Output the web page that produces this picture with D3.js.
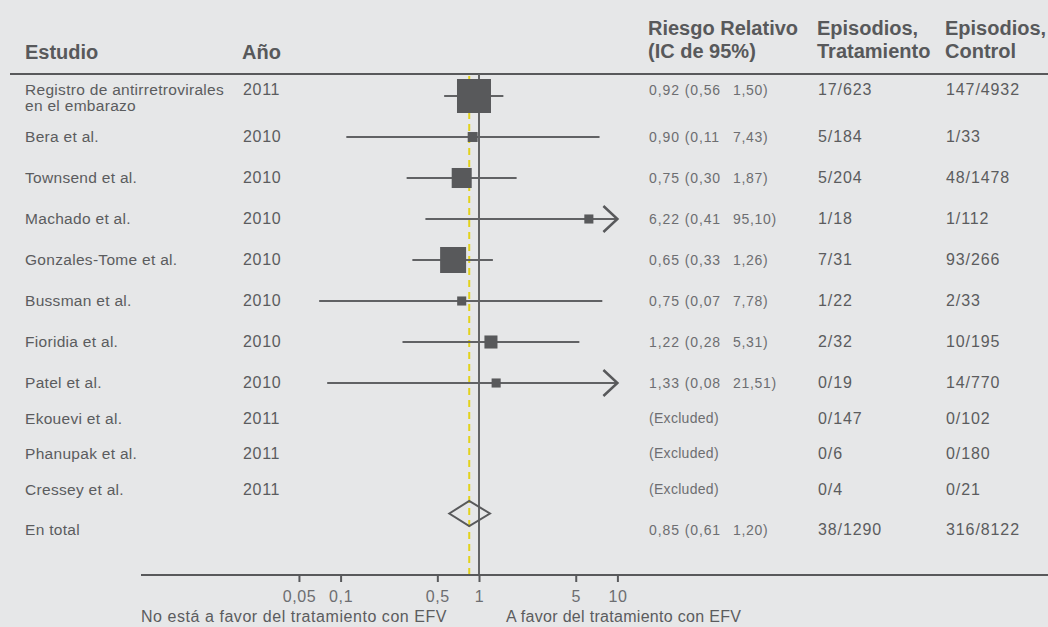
<!DOCTYPE html>
<html lang="es">
<head>
<meta charset="utf-8">
<script src="https://cdn.jsdelivr.net/npm/d3@7"></script>
<style>
  html, body { margin: 0; padding: 0; background: #e6e7e8; }
  svg { display: block; font-family: "Liberation Sans", Arial, Helvetica, sans-serif; }
</style>
</head>
<body>
<svg id="chart" width="1048" height="627"></svg>
<script>
// Estudios incluidos en el metanálisis
const studies = [
  ["Registro de antirretrovirales", "en el embarazo"],
  ["Bera et al."],
  ["Townsend et al."],
  ["Machado et al."],
  ["Gonzales-Tome et al."],
  ["Bussman et al."],
  ["Fioridia et al."],
  ["Patel et al."],
  ["Ekouevi et al."],
  ["Phanupak et al."],
  ["Cressey et al."]
];
const years = [2011, 2010, 2010, 2010, 2010, 2010, 2010, 2010, 2011, 2011, 2011];

// Riesgo relativo e IC 95 % (null = estudio excluido)
const rr    = [0.92, 0.90, 0.75, 6.22, 0.65, 0.75, 1.22, 1.33, null, null, null];
const lower = [0.56, 0.11, 0.30, 0.41, 0.33, 0.07, 0.28, 0.08, null, null, null];
const upper = [1.50, 7.43, 1.87, 95.10, 1.26, 7.78, 5.31, 21.51, null, null, null];

// Peso relativo de cada estudio (%), fija el tamaño del cuadrado
const weights = [42.1, 3.6, 14.6, 3.0, 24.6, 3.0, 6.2, 3.0, null, null, null];

// Episodios / total en cada grupo
const treatEvents   = [17, 5, 5, 1, 7, 1, 2, 0, 0, 0, 0];
const treatTotal    = [623, 184, 204, 18, 31, 22, 32, 19, 147, 6, 4];
const controlEvents = [147, 1, 48, 1, 93, 2, 10, 14, 0, 0, 0];
const controlTotal  = [4932, 33, 1478, 112, 266, 33, 195, 770, 102, 180, 21];

// Estimación combinada
const pooledLabel = "En total";
const pooled = { rr: 0.85, lower: 0.61, upper: 1.20 };
const pooledTreat = [38, 1290];
const pooledControl = [316, 8122];

// Eje
const tickValues = [0.05, 0.1, 0.5, 1, 5, 10];
const axisMax = 10;
const headers = {
  study: "Estudio", year: "Año",
  rr: ["Riesgo Relativo", "(IC de 95%)"],
  treat: ["Episodios,", "Tratamiento"],
  control: ["Episodios,", "Control"]
};
const favourLeft = "No está a favor del tratamiento con EFV";
const favourRight = "A favor del tratamiento con EFV";

// ---------------------------------------------------------------
const W = 1048, H = 627;
const dark = "#58595b", lineCol = "#616264", textCol = "#5b5c5e", lightText = "#6d6e71";
const col = { study: 25, year: 243, ci: 649, ciHi: 733, treat: 818, control: 946 };
const topRule = 74, axisY = 575;

const svg = d3.select("#chart");
svg.append("rect").attr("width", W).attr("height", H).attr("fill", "#e6e7e8");

const x = d3.scaleLog().domain([0.1, 10]).range([340.6, 617.4]);
const size = d3.scaleSqrt().domain([0, d3.max(weights)]).range([0, 34]);
const fmt = v => d3.format(".2f")(v).replace(".", ",");

// Filas: centro vertical acumulado según el tipo de fila
const rows = studies.map((s, i) => ({
  label: s, year: years[i], rr: rr[i], lo: lower[i], hi: upper[i], w: weights[i],
  treat: `${treatEvents[i]}/${treatTotal[i]}`,
  control: `${controlEvents[i]}/${controlTotal[i]}`
}));
let cy = 96;
rows.forEach((r, i) => {
  if (i > 0) cy += r.rr != null ? 41 : 35.5;
  r.cy = cy;
});
const totalCy = cy + 40;

// Encabezados
const hdr = svg.append("g").attr("fill", dark).attr("font-weight", "bold").attr("font-size", 20);
hdr.append("text").attr("x", col.study).attr("y", 59).text(headers.study);
hdr.append("text").attr("x", col.year - 1).attr("y", 59).text(headers.year);
[["rr", col.ci - 1], ["treat", col.treat - 1], ["control", col.control - 1]].forEach(([k, xx]) => {
  headers[k].forEach((t, j) => hdr.append("text").attr("x", xx).attr("y", 35 + j * 23).text(t));
});
svg.append("line").attr("x1", 10).attr("x2", W).attr("y1", topRule).attr("y2", topRule)
  .attr("stroke", dark).attr("stroke-width", 2);

// Línea de no efecto y línea del efecto combinado
svg.append("line").attr("x1", x(1)).attr("x2", x(1)).attr("y1", topRule).attr("y2", axisY)
  .attr("stroke", "#636466").attr("stroke-width", 2);
svg.append("line").attr("x1", x(pooled.rr)).attr("x2", x(pooled.rr)).attr("y1", topRule + 2).attr("y2", axisY)
  .attr("stroke", "#e2d21c").attr("stroke-width", 2).attr("stroke-dasharray", "7,5");

// Textos de cada fila
const rowG = svg.append("g").selectAll("g").data(rows).join("g");
rowG.each(function (r) {
  const g = d3.select(this);
  const base = r.cy + 5 - (r.label.length > 1 ? 6 : 0);
  const lab = g.append("text").attr("x", col.study).attr("y", base)
    .attr("fill", textCol).attr("font-size", 15.5).attr("letter-spacing", 0.3);
  r.label.forEach((t, j) => lab.append("tspan").attr("x", col.study).attr("y", base + j * 15.5).text(t));
  g.append("text").attr("x", col.year).attr("y", base).attr("fill", textCol)
    .attr("font-size", 16).attr("letter-spacing", 0.7).text(r.year);
  if (r.rr != null) {
    g.append("text").attr("x", col.ci).attr("y", base).attr("fill", lightText)
      .attr("font-size", 14).attr("letter-spacing", 0.9).text(`${fmt(r.rr)} (${fmt(r.lo)}`);
    g.append("text").attr("x", col.ciHi).attr("y", base).attr("fill", lightText)
      .attr("font-size", 14).attr("letter-spacing", 0.7).text(`${fmt(r.hi)})`);
  } else {
    g.append("text").attr("x", col.ci).attr("y", base - 1).attr("fill", lightText)
      .attr("font-size", 14).attr("letter-spacing", 0.3).text("(Excluded)");
  }
  g.append("text").attr("x", col.treat).attr("y", base).attr("fill", textCol)
    .attr("font-size", 16).attr("letter-spacing", 0.9).text(r.treat);
  g.append("text").attr("x", col.control).attr("y", base).attr("fill", textCol)
    .attr("font-size", 16).attr("letter-spacing", 0.9).text(r.control);
});

// Intervalos de confianza, flechas y cuadrados
const est = rows.filter(r => r.rr != null);
const marks = svg.append("g");
marks.selectAll("line.ci").data(est).join("line").attr("class", "ci")
  .attr("x1", r => x(r.lo)).attr("x2", r => x(Math.min(r.hi, axisMax)))
  .attr("y1", r => r.cy).attr("y2", r => r.cy)
  .attr("stroke", lineCol).attr("stroke-width", 2);
marks.selectAll("path.arrow").data(est.filter(r => r.hi > axisMax)).join("path").attr("class", "arrow")
  .attr("d", r => `M${x(axisMax) - 14},${r.cy - 13}L${x(axisMax)},${r.cy}L${x(axisMax) - 14},${r.cy + 13}`)
  .attr("fill", "none").attr("stroke", dark).attr("stroke-width", 2.5);
marks.selectAll("rect.box").data(est).join("rect").attr("class", "box")
  .attr("x", r => x(r.rr) - size(r.w) / 2).attr("y", r => r.cy - size(r.w) / 2)
  .attr("width", r => size(r.w)).attr("height", r => size(r.w))
  .attr("fill", dark);

// Fila del total combinado
const dy = totalCy - 16;
svg.append("path")
  .attr("d", `M${x(pooled.lower)},${dy}L${x(pooled.rr)},${dy - 12.5}L${x(pooled.upper)},${dy}L${x(pooled.rr)},${dy + 12.5}Z`)
  .attr("fill", "none").attr("stroke", dark).attr("stroke-width", 2);
const tb = totalCy + 5;
svg.append("text").attr("x", col.study).attr("y", tb).attr("fill", textCol)
  .attr("font-size", 15.5).attr("letter-spacing", 0.3).text(pooledLabel);
svg.append("text").attr("x", col.ci).attr("y", tb).attr("fill", lightText).attr("font-size", 14)
  .attr("letter-spacing", 0.9).text(`${fmt(pooled.rr)} (${fmt(pooled.lower)}`);
svg.append("text").attr("x", col.ciHi).attr("y", tb).attr("fill", lightText).attr("font-size", 14)
  .attr("letter-spacing", 0.7).text(`${fmt(pooled.upper)})`);
svg.append("text").attr("x", col.treat).attr("y", tb).attr("fill", textCol).attr("font-size", 16)
  .attr("letter-spacing", 0.9).text(`${pooledTreat[0]}/${pooledTreat[1]}`);
svg.append("text").attr("x", col.control).attr("y", tb).attr("fill", textCol).attr("font-size", 16)
  .attr("letter-spacing", 0.9).text(`${pooledControl[0]}/${pooledControl[1]}`);

// Eje logarítmico
svg.append("line").attr("x1", 141).attr("x2", W).attr("y1", axisY).attr("y2", axisY)
  .attr("stroke", dark).attr("stroke-width", 2);
const axis = svg.append("g").attr("transform", `translate(0,${axisY})`)
  .call(d3.axisBottom(x).tickValues(tickValues).tickSize(7).tickSizeOuter(0)
    .tickFormat(d => String(d).replace(".", ",")));
axis.select(".domain").remove();
axis.selectAll(".tick line").attr("stroke", dark).attr("stroke-width", 2);
axis.selectAll(".tick text").attr("fill", lightText).attr("font-size", 16)
  .attr("font-family", "'Liberation Sans', Arial, sans-serif").attr("letter-spacing", 0.6)
  .attr("y", 16);

svg.append("text").attr("x", 141).attr("y", 622).attr("fill", textCol).attr("font-size", 16)
  .attr("letter-spacing", 0.55).text(favourLeft);
svg.append("text").attr("x", 506).attr("y", 622).attr("fill", textCol).attr("font-size", 16)
  .attr("letter-spacing", 0.3).text(favourRight);
</script>
</body>
</html>
